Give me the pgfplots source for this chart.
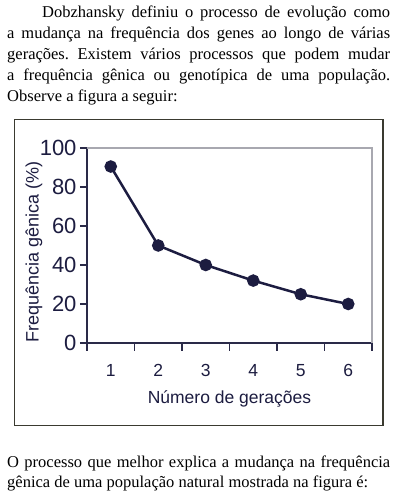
\documentclass[border=0pt]{standalone}
\usepackage{pgfplots}
\pgfplotsset{compat=1.18}
\usepackage{fontspec}
\setmainfont{Liberation Serif}
\newfontfamily\sansf{Liberation Sans}
\definecolor{navy}{HTML}{1C1C40}
\definecolor{spine}{HTML}{2A2A48}
\definecolor{lightspine}{HTML}{A8A8B0}
\definecolor{boxc}{HTML}{3A3A30}
\pgfplotstableread{
x y
1 90.5
2 50
3 40
4 32
5 25
6 20
}\freqdata
\begin{document}
\frenchspacing
\begin{tikzpicture}
\path[use as bounding box] (0,0) rectangle (394bp,500bp);
% text above
\node[anchor=base west, inner sep=0pt] at (7bp,482bp) {\parbox[t]{383bp}{\frenchspacing\fontsize{16.5bp}{21bp}\selectfont\setlength\parindent{0pt}\hspace*{35bp}Dobzhansky definiu o processo de evolução como\linebreak a mudança na frequência dos genes ao longo de várias\linebreak gerações. Existem vários processos que podem mudar\linebreak a frequência gênica ou genotípica de uma população.\linebreak Observe a figura a seguir:}};
% text below
\node[anchor=base west, inner sep=0pt] at (7bp,33bp) {\parbox[t]{383bp}{\frenchspacing\fontsize{16.5bp}{20.5bp}\selectfont\setlength\parindent{0pt}O processo que melhor explica a mudança na frequência\linebreak gênica de uma população natural mostrada na figura é:}};
% frame
\draw[boxc, line width=1bp] (383bp,74bp) -- (14bp,74bp) -- (14bp,380bp) -- (383bp,380bp);
\draw[boxc, line width=2bp] (383bp,380.5bp) -- (383bp,73.5bp);
\begin{axis}[
  at={(87bp,157bp)}, anchor=south west,
  scale only axis, width=285bp, height=195bp,
  xmin=0.5, xmax=6.5, ymin=0, ymax=100,
  axis lines=left, axis line style={-, spine, line width=1.2bp},
  xtick={1,...,6},
  major x tick style={draw=none},
  minor xtick={0.5,1.5,2.5,3.5,4.5,5.5,6.5},
  minor x tick style={spine, line width=1.2bp},
  minor tick length=8bp,
  ytick={0,20,40,60,80,100},
  major y tick style={spine, line width=1.2bp},
  major tick length=7bp,
  tick align=outside,
  xticklabel style={font=\sansf\fontsize{17.5bp}{17.5bp}\selectfont, text=navy, yshift=-11bp},
  yticklabel style={font=\sansf\fontsize{22bp}{22bp}\selectfont, text=navy},
  /pgf/number format/assume math mode=true,
  xlabel={Número de gerações},
  ylabel={Frequência gênica (\%)},
  xlabel style={font=\sansf\fontsize{17.5bp}{17.5bp}\selectfont, text=navy, at={(axis description cs:0.5,-0.308)}, anchor=base},
  ylabel style={font=\sansf\fontsize{18bp}{18bp}\selectfont, text=navy, at={(axis description cs:-0.17,0.467)}, anchor=base},
  clip=false,
]
\draw[lightspine, line width=1.2bp] (rel axis cs:0,1) -- (rel axis cs:1,1) -- (rel axis cs:1,0);
\addplot[navy, line width=2.5bp, mark=*, mark size=5bp, mark options={fill=navy}] table[x=x,y=y] {\freqdata};
\end{axis}
\end{tikzpicture}
\end{document}
